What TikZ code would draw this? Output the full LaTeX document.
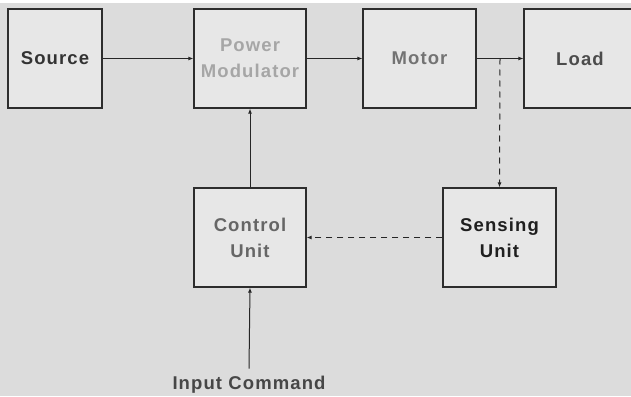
\documentclass[tikz,border=0pt]{standalone}
\usepackage{fontspec}
\newfontfamily\blockfont{Liberation Sans}[LetterSpace=6]
\usepackage{xcolor}
\usepackage{tikz}
\usetikzlibrary{arrows.meta,positioning}
\definecolor{drive_bg}{RGB}{220,220,220}
\definecolor{drive_box}{RGB}{231,231,231}
\definecolor{drive_edge}{RGB}{45,45,45}

\begin{document}
\begin{tikzpicture}[x=1pt, y=-1pt,
    block/.style={draw=drive_edge, fill=drive_box, line width=1.2pt,
      minimum width=112pt, minimum height=99pt, inner sep=0pt,
      align=center, font=\blockfont\bfseries\fontsize{18.5}{26}\selectfont},
    flow/.style={draw=black!85, line width=1pt, -{Latex[length=5pt,width=4pt]}},
    sense/.style={flow, dashed, dash pattern=on 6pt off 5pt}]
        % canvas
        \fill[white] (0,0) rectangle (631,396);
        \fill[drive_bg] (0,3) rectangle (631,396);
        \clip (0,0) rectangle (631,396);
        % forward path
        \node[block, minimum width=94pt, text=black!80] (src) at (55,58.5) {Source};
        \node[block, text=black!35] (pm) at (250,58.5) {Power\\Modulator};
        \node[block, minimum width=113pt, text=black!55] (motor) at (419.5,58.5) {Motor};
        \node[block, text=black!70] (load) at (580,58.5) {Load};
        % feedback path
        \node[block, text=black!60] (ctrl) at (250,237.5) {Control\\Unit};
        \node[block, minimum width=113pt, text=black!88] (sens) at (499.5,237.5) {Sensing\\Unit};
        \node[font=\blockfont\bfseries\fontsize{18.5}{22}\selectfont, text=black!72,
          inner sep=1pt] (cmd) at (249,384.5) {Input Command};
        \coordinate (tap) at (500,58.5);
        % connectors
        \draw[flow] (src) -- (pm);
        \draw[flow] (pm) -- (motor);
        \draw[flow] (motor) -- (load);
        \draw[sense] (tap) -- (sens.north);
        \draw[sense] (sens.west) -- (ctrl.east);
        \draw[flow] (ctrl.north) -- (pm.south);
        \draw[flow] ([yshift=6pt]cmd.north) -- (ctrl.south);
      \end{tikzpicture}
\end{document}
